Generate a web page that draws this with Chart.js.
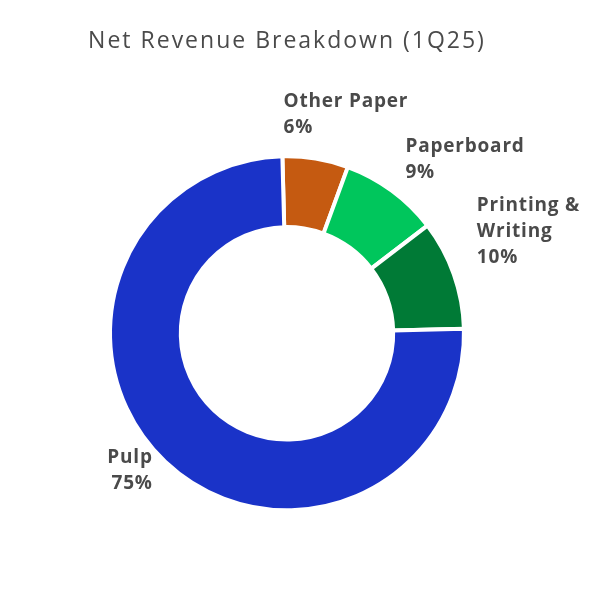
<!DOCTYPE html>
<html>
<head>
<meta charset="utf-8">
<title>Net Revenue Breakdown (1Q25)</title>
<script src="https://cdn.jsdelivr.net/npm/chart.js@4.4.1/dist/chart.umd.min.js"></script>
<style>
  html, body { margin: 0; padding: 0; background: #ffffff; }
  #wrap { width: 604px; height: 604px; }
</style>
</head>
<body>
<div id="wrap"><canvas id="revenue-chart" width="604" height="604"></canvas></div>
<script>
// fatias em sentido horário a partir do topo
var categories = [["Other Paper"], ["Paperboard"], ["Printing &", "Writing"], ["Pulp"]];
var shares = [6, 9, 10, 75];
var sliceColors = ["#c55a11", "#00c65c", "#007a36", "#1a33c8"];

var TEXT_COLOR = "#4a4a4a";

// rótulos fora do anel, na direção do meio de cada fatia
var outsideLabels = {
  id: "outsideLabels",
  afterDatasetsDraw: function (chart, args, opts) {
    var ctx = chart.ctx;
    var meta = chart.getDatasetMeta(0);
    var values = chart.data.datasets[0].data;
    ctx.save();
    ctx.font = "700 19px 'Open Sans'";
    ctx.fillStyle = opts.color;
    ctx.letterSpacing = opts.letterSpacing;
    ctx.textBaseline = "alphabetic";
    meta.data.forEach(function (arc, i) {
      var p = arc.getProps(["x", "y", "startAngle", "endAngle", "outerRadius"], true);
      var mid = (p.startAngle + p.endAngle) / 2;
      var d = p.outerRadius + opts.offset;
      var ax = p.x + Math.cos(mid) * d;
      var ay = p.y + Math.sin(mid) * d;
      var lines = [].concat(chart.data.labels[i], values[i] + "%");
      var lh = opts.lineHeight;
      var first = Math.sin(mid) < 0
        ? ay - (lines.length - 1) * lh
        : ay + (opts.capHeight - (lines.length - 1) * lh) / 2;
      var n = opts.nudge[i] || [0, 0];
      ctx.textAlign = Math.cos(mid) >= 0 ? "left" : "right";
      lines.forEach(function (t, k) {
        ctx.fillText(t, ax + n[0], first + k * lh + n[1]);
      });
    });
    ctx.restore();
  }
};

// espaçamento entre letras do título (Chart.js não tem opção pra isso)
var titleSpacing = {
  id: "titleSpacing",
  beforeDraw: function (chart) { chart.ctx.letterSpacing = "2px"; },
  afterDraw: function (chart) { chart.ctx.letterSpacing = "0px"; }
};

new Chart(document.getElementById("revenue-chart"), {
  type: "doughnut",
  data: {
    labels: categories,
    datasets: [{
      data: shares,
      backgroundColor: sliceColors,
      borderColor: "#ffffff",
      borderWidth: 4
    }]
  },
  plugins: [titleSpacing, outsideLabels],
  options: {
    responsive: false,
    animation: false,
    events: [],
    rotation: -1.5,
    radius: 177,
    cutout: "60%",
    layout: { padding: { top: 28, bottom: 12, left: 60, right: 90 } },
    plugins: {
      legend: { display: false },
      tooltip: { enabled: false },
      title: {
        display: true,
        text: "Net Revenue Breakdown (1Q25)",
        color: TEXT_COLOR,
        font: { family: "'Open Sans'", size: 23, weight: "500", lineHeight: 1.2 },
        padding: { top: 0, bottom: 19 }
      },
      outsideLabels: {
        color: TEXT_COLOR,
        letterSpacing: "0.8px",
        offset: 18,
        lineHeight: 26,
        capHeight: 13,
        nudge: [[-35, -8], [3, 2], [6, -5], [0, -5]]
      }
    }
  }
});
</script>
</body>
</html>
